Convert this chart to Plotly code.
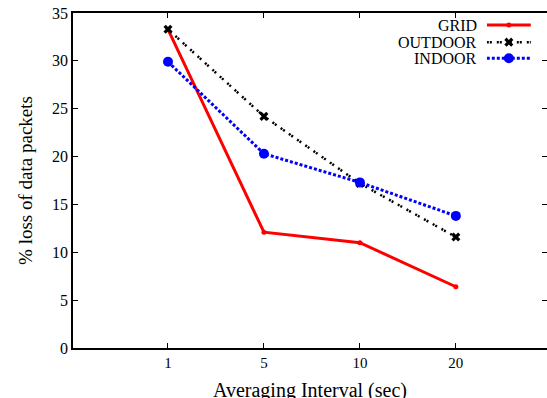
import plotly.graph_objects as go

intervals = ["1", "5", "10", "20"]
grid = [33.3, 12.1, 11.0, 6.4]
outdoor = [33.3, 24.2, 17.2, 11.6]
indoor = [29.9, 20.3, 17.3, 13.8]
series_names = ["GRID", "OUTDOOR", "INDOOR"]
x_title = "Averaging Interval (sec)"
y_title = "% loss of data packets"

FONT = "'Liberation Serif', 'Times New Roman', Times, serif"

styles = {
    "GRID": dict(line=dict(color="#ff0000", width=3), marker=dict(symbol="circle", size=5, color="#ff0000")),
    "OUTDOOR": dict(line=dict(color="#000000", width=2.5, dash="2px,1px,2px,5px"),
                    marker=dict(symbol="x", size=8, color="#000000")),
    "INDOOR": dict(line=dict(color="#0000ff", width=3, dash="3px,2px"),
                   marker=dict(symbol="circle", size=10, color="#0000ff")),
}

fig = go.Figure()
for name, vals in zip(series_names, [grid, outdoor, indoor]):
    fig.add_trace(go.Scatter(x=intervals, y=vals, mode="lines+markers", name=name,
                             showlegend=False, **styles[name]))

# manual legend (symbol on the right of the text, gnuplot style)
leg_y = [0.964, 0.913, 0.865]
for name, ly in zip(series_names, leg_y):
    fig.add_trace(go.Scatter(x=[0.0, 0.5, 1.0], y=[ly, ly, ly], xaxis="x3", yaxis="y3",
                             mode="lines", showlegend=False, hoverinfo="skip",
                             line=styles[name]["line"]))
    fig.add_trace(go.Scatter(x=[0.5], y=[ly], xaxis="x3", yaxis="y3",
                             mode="markers", showlegend=False, hoverinfo="skip",
                             marker=styles[name]["marker"]))
    fig.add_annotation(x=0.856, y=ly, xref="paper", yref="paper", text=name,
                       showarrow=False, xanchor="right", yanchor="middle",
                       font=dict(family=FONT, size=16, color="#000"))

# x-axis title placed as an annotation (sits partly below the frame, like the reference)
fig.add_annotation(x=0.5, y=-0.128, xref="paper", yref="paper", text=x_title,
                   showarrow=False, xanchor="center", yanchor="middle",
                   font=dict(family=FONT, size=20, color="#000"))

fig.update_layout(
    width=547, height=398,
    margin=dict(l=73, r=0, t=13, b=50, autoexpand=False),
    paper_bgcolor="white", plot_bgcolor="white",
    font=dict(family=FONT, size=15, color="#000"),
    xaxis=dict(type="category", range=[-0.99, 3.95], showline=True, linecolor="#000",
               linewidth=1.5, mirror="ticks", ticks="inside", ticklen=5, tickcolor="#000",
               showgrid=False, zeroline=False, automargin=False,
               tickfont=dict(family=FONT, size=15)),
    yaxis=dict(range=[0, 35], dtick=5, showline=True, linecolor="#000", linewidth=1.5,
               ticks="inside", ticklen=5, tickcolor="#000", showgrid=False, zeroline=False,
               automargin=False, tickfont=dict(family=FONT, size=16),
               title=dict(text=y_title, font=dict(family=FONT, size=19), standoff=14)),
    yaxis2=dict(range=[0, 35], dtick=5, overlaying="y", side="right", showline=False,
                ticks="inside", ticklen=5, tickcolor="#000", showticklabels=False,
                showgrid=False, zeroline=False, automargin=False),
    xaxis3=dict(domain=[0.873, 0.966], range=[0, 1], visible=False, anchor="y3", automargin=False),
    yaxis3=dict(domain=[0, 1], range=[0, 1], visible=False, anchor="x3", automargin=False),
)
# dummy trace to activate yaxis2 for right-side ticks
fig.add_trace(go.Scatter(x=intervals, y=grid, yaxis="y2", mode="none",
                         showlegend=False, hoverinfo="skip"))
fig.write_html("out.html", config={"displayModeBar": False},
               post_script="document.body.style.margin='0';document.body.style.padding='0';")
